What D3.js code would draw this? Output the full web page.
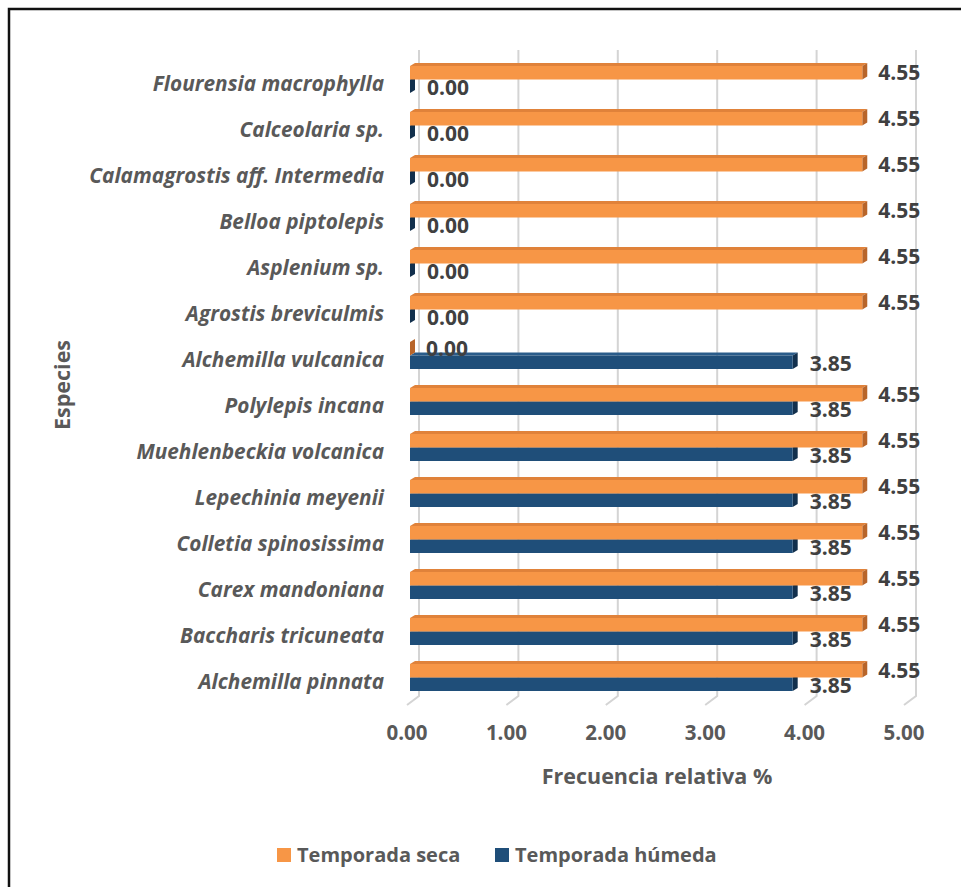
<!DOCTYPE html>
<html>
<head>
<meta charset="utf-8">
<script src="https://cdn.jsdelivr.net/npm/d3@7/dist/d3.min.js"></script>
<style>
  html, body { margin: 0; padding: 0; background: #fff; }
  svg { display: block; }
  text { font-family: "Open Sans", Lato, sans-serif; font-weight: bold; fill: #595959; }
</style>
</head>
<body>
<svg id="chart" width="961" height="887"></svg>
<script>
// Species, listed top to bottom
const categories = [
  "Flourensia macrophylla",
  "Calceolaria sp.",
  "Calamagrostis aff. Intermedia",
  "Belloa piptolepis",
  "Asplenium sp.",
  "Agrostis breviculmis",
  "Alchemilla vulcanica",
  "Polylepis incana",
  "Muehlenbeckia volcanica",
  "Lepechinia meyenii",
  "Colletia spinosissima",
  "Carex mandoniana",
  "Baccharis tricuneata",
  "Alchemilla pinnata"
];
// Relative frequency (%) per season
const secaValues   = [4.55, 4.55, 4.55, 4.55, 4.55, 4.55, 0.00, 4.55, 4.55, 4.55, 4.55, 4.55, 4.55, 4.55];
const humedaValues = [0.00, 0.00, 0.00, 0.00, 0.00, 0.00, 3.85, 3.85, 3.85, 3.85, 3.85, 3.85, 3.85, 3.85];
const xTicks = [0, 1, 2, 3, 4, 5];
const seriesNames = ["Temporada seca", "Temporada húmeda"];

const colors = {
  seca:   { front: "#F79646", top: "#E0823A", side: "#B8652A" },
  humeda: { front: "#1F4E79", top: "#2A5C8A", side: "#12304D" }
};

const svg = d3.select("#chart");

// outer frame
svg.append("rect")
  .attr("x", 9).attr("y", 9).attr("width", 960).attr("height", 890)
  .attr("fill", "none").attr("stroke", "#111").attr("stroke-width", 2.5);

// 3D depth of the bars and the floor
const dx = 5, dy = 3;
const xBack  = d3.scaleLinear().domain([0, 5]).range([419, 916]);
const xBar   = d3.scaleLinear().domain([0, 5]).range([410, 907]);
const xFloor = d3.scaleLinear().domain([0, 5]).range([407, 904]);
const y = d3.scaleBand().domain(categories).range([61, 705]);

const wallTop = 50, wallBottom = 696, floorFront = 705;

// gridlines on the back wall, slanting across the floor
const grid = svg.append("g");
xTicks.forEach(t => {
  grid.append("path")
    .attr("d", `M${xBack(t)},${wallTop} L${xBack(t)},${wallBottom} L${xFloor(t)},${floorFront}`)
    .attr("fill", "none").attr("stroke", "#D4D4D4").attr("stroke-width", 2);
});

// x tick labels
svg.append("g").selectAll("text").data(xTicks).join("text")
  .attr("x", d => xFloor(d)).attr("y", 740)
  .attr("text-anchor", "middle")
  .attr("font-size", 20.5)
  .text(d => d3.format(".2f")(d));

// category labels
svg.append("g").selectAll("text").data(categories).join("text")
  .attr("x", 384)
  .attr("y", d => y(d) + y.bandwidth() / 2 + 7)
  .attr("text-anchor", "end")
  .attr("font-size", 20.8)
  .attr("font-style", "italic")
  .text(d => d);

// one 3D bar: front face, top face, end face
function bar3d(g, x0, x1, top, h, c) {
  g.append("path")
    .attr("d", `M${x0},${top} L${x0 + dx},${top - dy} L${x1 + dx},${top - dy} L${x1},${top} Z`)
    .attr("fill", c.top);
  g.append("path")
    .attr("d", `M${x1},${top} L${x1 + dx},${top - dy} L${x1 + dx},${top + h - dy} L${x1},${top + h} Z`)
    .attr("fill", c.side);
  g.append("rect")
    .attr("x", x0).attr("y", top).attr("width", Math.max(0, x1 - x0)).attr("height", h)
    .attr("fill", c.front);
}

const barH = 13.5;
const bars = svg.append("g");
const labels = svg.append("g");
categories.forEach((cat, i) => {
  const y0 = y(cat);
  const topSeca = y0 + 5;
  const topHum = topSeca + barH;
  // wet season below, drawn first so the dry-season bar covers its top face
  bar3d(bars, xBar(0), xBar(humedaValues[i]), topHum, barH, colors.humeda);
  bar3d(bars, xBar(0), xBar(secaValues[i]), topSeca, barH, colors.seca);
});
categories.forEach((cat, i) => {
  const y0 = y(cat);
  const topSeca = y0 + 5;
  const topHum = topSeca + barH;
  labels.append("text")
    .attr("x", xBar(secaValues[i]) + dx + 11)
    .attr("y", topSeca + barH / 2 + 7.5)
    .attr("font-size", 21).style("fill", "#404040")
    .text(d3.format(".2f")(secaValues[i]));
  labels.append("text")
    .attr("x", xBar(humedaValues[i]) + dx + 12)
    .attr("y", topHum + barH / 2 + 8.5)
    .attr("font-size", 21).style("fill", "#404040")
    .text(d3.format(".2f")(humedaValues[i]));
});

// axis titles
svg.append("text")
  .attr("x", 657).attr("y", 784)
  .attr("text-anchor", "middle").attr("font-size", 21.5)
  .text("Frecuencia relativa %");
svg.append("text")
  .attr("transform", "translate(70,385) rotate(-90)")
  .attr("text-anchor", "middle").attr("font-size", 21.5)
  .text("Especies");

// legend
const legend = svg.append("g");
const legendItems = [
  { name: seriesNames[0], color: colors.seca.front, x: 277 },
  { name: seriesNames[1], color: colors.humeda.front, x: 495 }
];
legendItems.forEach(d => {
  legend.append("rect").attr("x", d.x).attr("y", 848).attr("width", 14).attr("height", 14).attr("fill", d.color);
  legend.append("text").attr("x", d.x + 20).attr("y", 862).attr("font-size", 20).text(d.name);
});
</script>
</body>
</html>
